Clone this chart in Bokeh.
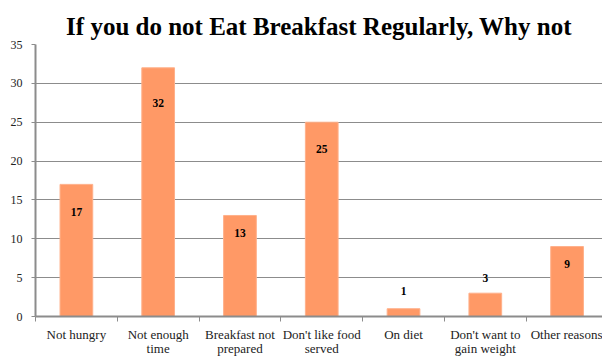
from bokeh.plotting import figure
from bokeh.models import FixedTicker, ColumnDataSource, Range1d
from bokeh.core.properties import value
from bokeh.embed import file_html
from bokeh.resources import INLINE

categories = ["Not hungry", "Not enough\ntime", "Breakfast not\nprepared", "Don't like food\nserved",
              "On diet", "Don't want to\ngain weight", "Other reasons"]
counts = [17, 32, 13, 25, 1, 3, 9]
y_ticks = [0, 5, 10, 15, 20, 25, 30, 35]

FONT = "Liberation Serif"
BAR = "#FF9966"
GRID = "#8C8C8C"

n = len(categories)
xs = [i + 0.5 for i in range(n)]
# vertical placement of the value labels (as in the original chart)
label_y = [13.5, 27.5, 10.7, 21.5, 3.3, 4.9, 6.7]

p = figure(width=602, height=358, output_backend="svg", toolbar_location=None,
           x_range=Range1d(0, 6.933), y_range=Range1d(0, 35),
           min_border_left=35, min_border_right=0, min_border_top=44, min_border_bottom=41,
           title="If you do not Eat Breakfast Regularly, Why not")
p.outline_line_color = None
p.background_fill_color = "white"
p.border_fill_color = "white"

p.title.text_font = FONT
p.title.text_font_size = "25px"
p.title.text_font_style = "bold"
p.title.align = "center"
p.title.text_color = "black"

src = ColumnDataSource(dict(x=xs, top=counts, ly=label_y, lab=[str(c) for c in counts]))
p.vbar(x="x", top="top", width=0.4, bottom=0, source=src, fill_color=BAR, line_color="#FFB08A", line_width=1)
p.text(x="x", y="ly", text="lab", source=src, text_font=value(FONT), text_font_size="11.5px",
       text_font_style="bold", text_align="center", text_baseline="middle", text_color="black")

# y axis
p.yaxis.ticker = FixedTicker(ticks=y_ticks)
p.yaxis.minor_tick_line_color = None
p.yaxis.major_tick_out = 4
p.yaxis.major_tick_in = 0
p.yaxis.major_label_standoff = 9
p.yaxis.axis_line_color = GRID
p.yaxis.axis_line_width = 2
p.yaxis.major_tick_line_color = GRID
p.yaxis.major_label_text_font = FONT
p.yaxis.major_label_text_font_size = "12px"
p.yaxis.major_label_text_color = "#222222"
p.ygrid.grid_line_color = GRID
p.ygrid.grid_line_width = 1
p.xgrid.grid_line_color = None

# x axis
p.xaxis.ticker = FixedTicker(ticks=xs, minor_ticks=list(range(n + 1)))
p.xaxis.major_label_overrides = {x: c for x, c in zip(xs, categories)}
p.xaxis.major_tick_line_color = None
p.xaxis.major_tick_out = 0
p.xaxis.major_tick_in = 0
p.xaxis.minor_tick_out = 5
p.xaxis.minor_tick_in = 0
p.xaxis.minor_tick_line_color = GRID
p.xaxis.minor_tick_line_width = 1
p.xaxis.axis_line_color = GRID
p.xaxis.axis_line_width = 2
p.xaxis.major_label_standoff = 5
p.xaxis.major_label_text_font = FONT
p.xaxis.major_label_text_font_size = "13px"
p.xaxis.major_label_text_color = "#222222"
p.xaxis.major_label_text_line_height = 0.94

open("out.html", "w").write(file_html(p, INLINE))
